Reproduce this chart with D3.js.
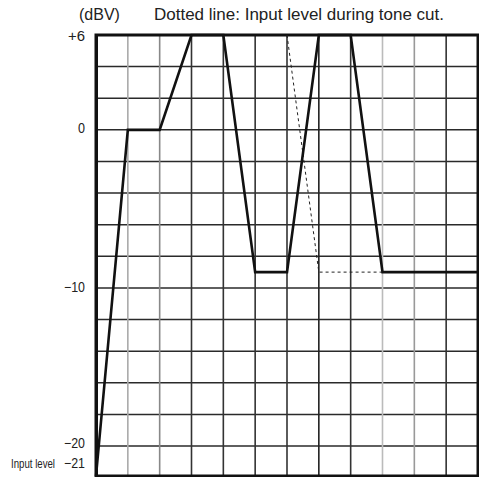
<!DOCTYPE html>
<html>
<head>
<meta charset="utf-8">
<script src="https://cdn.jsdelivr.net/npm/d3@7"></script>
<style>
  html, body { margin: 0; padding: 0; background: #fff; }
  svg { display: block; }
  .lbl { font-family: "Liberation Sans", Arial, sans-serif; fill: #222; }
  .title { font-family: "Liberation Sans", Arial, sans-serif; fill: #222; }
</style>
</head>
<body>
<svg id="chart"></svg>
<script>
// time steps along x (grid columns) and input level in dBV
const steps = [0, 1, 2, 3, 4, 5, 6, 7, 8, 9, 12];
const levels = [-21, 0, 0, 6, 6, -9, -9, 6, 6, -9, -9];

// dotted line: input level during tone cut
const cutSteps = [6, 7, 9];
const cutLevels = [6, -9, -9];

const yTicks = [6, 0, -10, -20, -21];
const yTickLabels = ["+6", "0", "\u221210", "\u221220", "\u221221"];
const yGrid = [4, 2, 0, -2, -4, -6, -8, -10, -12, -14, -16, -18, -20];
const xGrid = [1, 2, 3, 4, 5, 6, 7, 8, 9, 10, 11];

const width = 479, height = 477;
const svg = d3.select("#chart").attr("width", width).attr("height", height);

const x = d3.scaleLinear().domain([0, 12]).range([96, 478]);
const y = d3.scaleLinear().domain([6, -20, -21]).range([35, 446, 476]);

// scanned grid has uneven shades on the vertical lines
const vShade = ["#aaa", "#888", "#333", "#333", "#333", "#333", "#222", "#333", "#bbb", "#999", "#333"];

svg.append("g").selectAll("line")
  .data(yGrid)
  .join("line")
  .attr("x1", x(0)).attr("x2", x(12))
  .attr("y1", d => y(d)).attr("y2", d => y(d))
  .attr("stroke", "#2a2a2a")
  .attr("stroke-width", 1.5);

svg.append("g").selectAll("line")
  .data(xGrid)
  .join("line")
  .attr("x1", d => x(d)).attr("x2", d => x(d))
  .attr("y1", y(6)).attr("y2", y(-21))
  .attr("stroke", (d, i) => vShade[i])
  .attr("stroke-width", 1.6);

// frame
svg.append("rect")
  .attr("x", x(0)).attr("y", y(6))
  .attr("width", x(12) - x(0)).attr("height", y(-21) - y(6))
  .attr("fill", "none")
  .attr("stroke", "#111")
  .attr("stroke-width", 3);
svg.append("line")
  .attr("x1", x(0) + 1).attr("x2", x(0) + 1)
  .attr("y1", y(6)).attr("y2", y(-21))
  .attr("stroke", "#111").attr("stroke-width", 2);

const line = d3.line().x(d => x(d[0])).y(d => y(d[1]));

svg.append("path")
  .datum(cutSteps.map((s, i) => [s, cutLevels[i]]))
  .attr("d", line)
  .attr("fill", "none")
  .attr("stroke", "#222")
  .attr("stroke-width", 1)
  .attr("stroke-dasharray", "3,3");

svg.append("path")
  .datum(steps.map((s, i) => [s, levels[i]]))
  .attr("d", line)
  .attr("fill", "none")
  .attr("stroke", "#111")
  .attr("stroke-width", 2.6)
  .attr("stroke-linejoin", "miter");

// y labels (condensed type in the original)
const labelY = { "6": 41, "0": 133, "-10": 292, "-20": 448, "-21": 468 };
const labelW = { "6": 17, "0": 7, "-10": 21, "-20": 21, "-21": 21 };
svg.append("g").selectAll("text")
  .data(yTicks)
  .join("text")
  .attr("class", "lbl")
  .attr("x", d => 85 - labelW[d])
  .attr("y", d => labelY[d])
  .attr("font-size", 14)
  .attr("textLength", d => labelW[d])
  .attr("lengthAdjust", "spacingAndGlyphs")
  .text((d, i) => yTickLabels[i]);

svg.append("text")
  .attr("class", "lbl")
  .attr("x", 11).attr("y", 468)
  .attr("font-size", 12)
  .attr("textLength", 44)
  .attr("lengthAdjust", "spacingAndGlyphs")
  .text("Input level");

svg.append("text")
  .attr("class", "title")
  .attr("x", 79).attr("y", 20)
  .attr("font-size", 16)
  .text("(dBV)");

svg.append("text")
  .attr("class", "title")
  .attr("x", 154).attr("y", 20)
  .attr("font-size", 16.5)
  .attr("textLength", 290)
  .attr("lengthAdjust", "spacingAndGlyphs")
  .text("Dotted line: Input level during tone cut.");
</script>
</body>
</html>
